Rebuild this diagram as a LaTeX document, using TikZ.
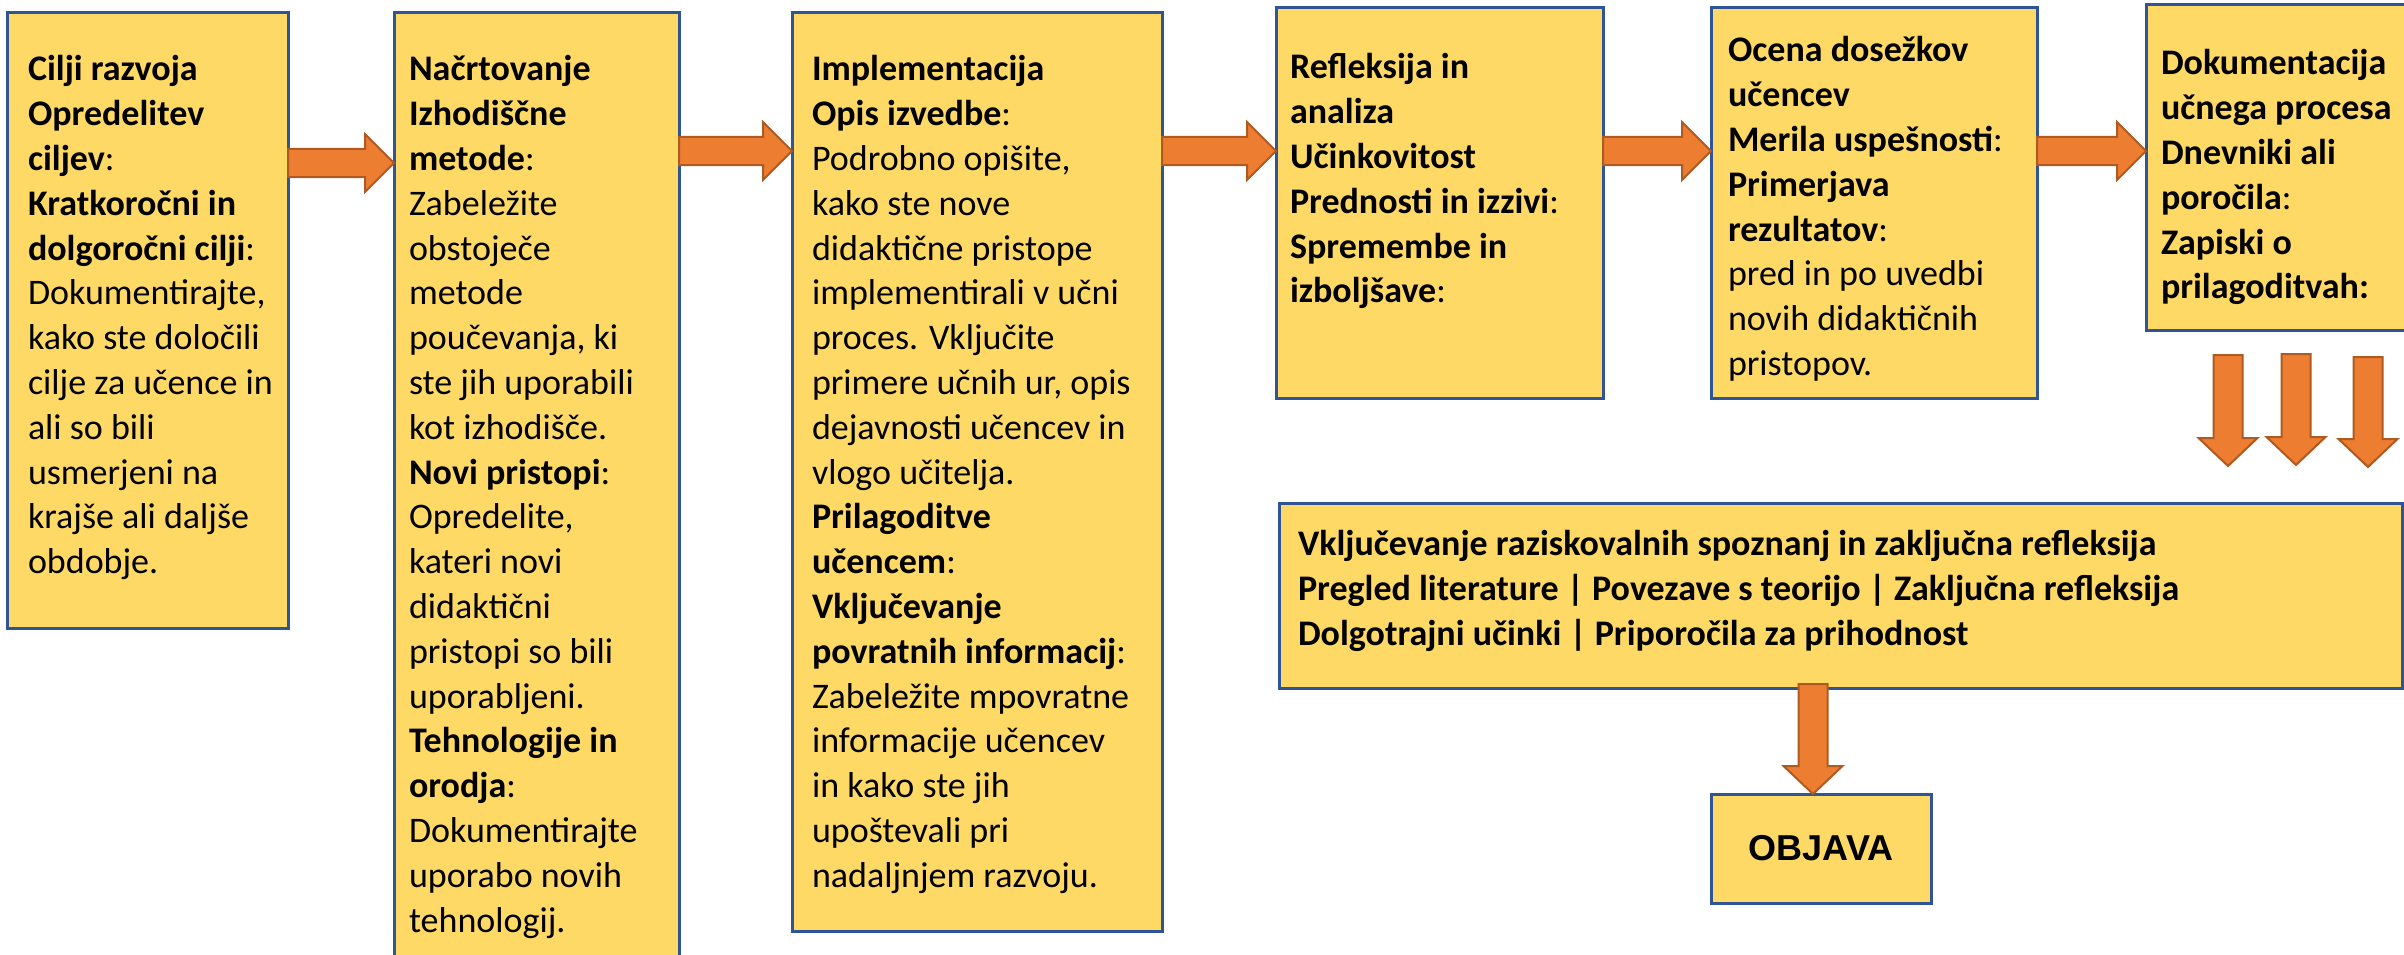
\documentclass[tikz,border=0pt]{standalone}
\usepackage{fontspec}
\setmainfont{Carlito}
\newfontfamily\objfont{Liberation Sans}
\usetikzlibrary{calc}
\definecolor{boxfill}{HTML}{FFD966}
\definecolor{boxline}{HTML}{2F5597}
\definecolor{arrfill}{HTML}{ED7D31}
\definecolor{arrline}{HTML}{AE5A21}
\tikzset{
  box/.style={draw=boxline, fill=boxfill, line width=3pt, anchor=north west, inner sep=0pt, outer sep=0pt},
  txt/.style={anchor=north west, inner sep=0pt, outer sep=0pt, align=left, font=\fontsize{36}{44.8}\selectfont},
  blockarrow/.style={draw=arrline, fill=arrfill, line width=2pt, line join=miter},
}
% right block arrow from node #1 (east side) to node #2 (west side) at the height of coordinate #3
\newcommand{\myRArrow}[3]{%
  \draw[blockarrow] ($(#1.east |- #3)+(0,-14)$) -- ($(#2.west |- #3)+(-29,-14)$)
    -- ($(#2.west |- #3)+(-29,-29)$) -- (#2.west |- #3) -- ($(#2.west |- #3)+(-29,29)$)
    -- ($(#2.west |- #3)+(-29,14)$) -- ($(#1.east |- #3)+(0,14)$) -- cycle;}
% down block arrow from coordinate #1 (shaft top) to coordinate #2 (tip)
\newcommand{\myDArrow}[2]{%
  \draw[blockarrow] ($(#1)+(-14.5,0)$) -- ($(#2)+(-14.5,-28)$) -- ($(#2)+(-29.5,-28)$)
    -- (#2) -- ($(#2)+(29.5,-28)$) -- ($(#2)+(14.5,-28)$) -- ($(#1)+(14.5,0)$) -- cycle;}
\begin{document}
\begin{tikzpicture}[x=1pt,y=-1pt]
\useasboundingbox (0,0) rectangle (2404,955);
\clip (0,0) rectangle (2404,955);

% boxes
\node[box, minimum width=281, minimum height=615] (b1) at (7,13) {};
\node[box, minimum width=285, minimum height=970] (b2) at (394,13) {};
\node[box, minimum width=370, minimum height=918] (b3) at (792,13) {};
\node[box, minimum width=327, minimum height=390] (b4) at (1276,8) {};
\node[box, minimum width=326, minimum height=390] (b5) at (1711,8) {};
\node[box, minimum width=290, minimum height=325] (b6) at (2146,5) {};
\node[box, minimum width=1123, minimum height=185] (big) at (1279,503) {};
\node[box, minimum width=220, minimum height=109, font=\objfont\bfseries\fontsize{36}{40}\selectfont] (obj) at (1711,794) {OBJAVA};

% texts
\node[txt] (t1) at ($(b1.north west)+(21,36.6)$) {\strut\textbf{Cilji razvoja}\\
\textbf{Opredelitev}\\
\textbf{ciljev}:\\
\textbf{Kratkoročni in}\\
\textbf{dolgoročni cilji}:\\
Dokumentirajte,\\
kako ste določili\\
cilje za učence in\\
ali so bili\\
usmerjeni na\\
krajše ali daljše\\
obdobje.};

\node[txt] (t2) at ($(b2.north west)+(15,36.6)$) {\strut\textbf{Načrtovanje}\\
\textbf{Izhodiščne}\\
\textbf{metode}:\\
Zabeležite\\
obstoječe\\
metode\\
poučevanja, ki\\
ste jih uporabili\\
kot izhodišče.\\
\textbf{Novi pristopi}:\\
Opredelite,\\
kateri novi\\
didaktični\\
pristopi so bili\\
uporabljeni.\\
\textbf{Tehnologije in}\\
\textbf{orodja}:\\
Dokumentirajte\\
uporabo novih\\
tehnologij.};

\node[txt] (t3) at ($(b3.north west)+(20,36.6)$) {\strut\textbf{Implementacija}\\
\textbf{Opis izvedbe}:\\
Podrobno opišite,\\
kako ste nove\\
didaktične pristope\\
implementirali v učni\\
proces. Vključite\\
primere učnih ur, opis\\
dejavnosti učencev in\\
vlogo učitelja.\\
\textbf{Prilagoditve}\\
\textbf{učencem}:\\
\textbf{Vključevanje}\\
\textbf{povratnih informacij}:\\
Zabeležite mpovratne\\
informacije učencev\\
in kako ste jih\\
upoštevali pri\\
nadaljnjem razvoju.};

\node[txt] (t4) at ($(b4.north west)+(14,39.6)$) {\strut\textbf{Refleksija in}\\
\textbf{analiza}\\
\textbf{Učinkovitost}\\
\textbf{Prednosti in izzivi}:\\
\textbf{Spremembe in}\\
\textbf{izboljšave}:};

\node[txt] (t5) at ($(b5.north west)+(17,22.6)$) {\strut\textbf{Ocena dosežkov}\\
\textbf{učencev}\\
\textbf{Merila uspešnosti}:\\
\textbf{Primerjava}\\
\textbf{rezultatov}:\\
pred in po uvedbi\\
novih didaktičnih\\
pristopov.};

\node[txt] (t6) at ($(b6.north west)+(15,38.6)$) {\strut\textbf{Dokumentacija}\\
\textbf{učnega procesa}\\
\textbf{Dnevniki ali}\\
\textbf{poročila}:\\
\textbf{Zapiski o}\\
\textbf{prilagoditvah:}};

\node[txt] (t7) at ($(big.north west)+(19,21.6)$) {\strut\textbf{Vključevanje raziskovalnih spoznanj in zaključna refleksija}\\
\textbf{Pregled literature | Povezave s teorijo | Zaključna refleksija}\\
\textbf{Dolgotrajni učinki | Priporočila za prihodnost}};

% right arrows
\coordinate (ya) at (0,163);
\coordinate (yb) at (0,151);
\myRArrow{b1}{b2}{ya}
\myRArrow{b2}{b3}{yb}
\myRArrow{b3}{b4}{yb}
\myRArrow{b4}{b5}{yb}
\myRArrow{b5}{b6}{yb}

% three down arrows below box 6
\coordinate (d1s) at (2228,355); \coordinate (d1e) at (2228,466);
\coordinate (d2s) at (2296,354); \coordinate (d2e) at (2296,465);
\coordinate (d3s) at (2368,357); \coordinate (d3e) at (2368,467);
\myDArrow{d1s}{d1e}
\myDArrow{d2s}{d2e}
\myDArrow{d3s}{d3e}

% arrow to OBJAVA
\coordinate (dx) at (1813,684);
\coordinate (dxe) at (dx |- obj.north);
\myDArrow{dx}{dxe}
\end{tikzpicture}
\end{document}
